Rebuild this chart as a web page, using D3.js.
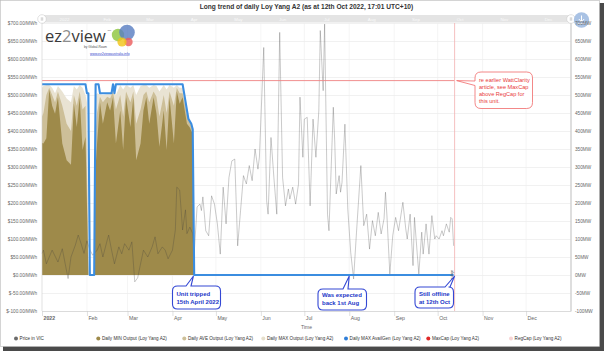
<!DOCTYPE html>
<html>
<head>
<meta charset="utf-8">
<script src="https://cdn.jsdelivr.net/npm/d3@7"></script>
<style>
  body { margin: 0; background: #fff; }
  svg { display: block; font-family: "Liberation Sans", Arial, sans-serif; }
</style>
</head>
<body>
<svg id="vis"></svg>
<script>
// ---- data (days counted from 1 Jan 2022) ----
let priceDays = [0, 1, 3, 7, 11, 14, 16, 18, 20, 23, 25, 27, 29, 31, 33, 35, 38, 40, 42, 45, 46, 48, 50, 53, 55, 57, 60, 62, 64, 66, 68, 70, 73, 76, 78, 80, 83, 85, 87, 90, 92, 93, 95, 97, 99, 100, 102, 104, 105, 107, 109, 110, 111, 113, 115, 117, 119, 121, 123, 125, 127, 129, 131, 133, 135, 137, 139, 141, 143, 145, 147, 149, 150, 153, 155, 156, 158, 160, 162, 164, 166, 168, 170, 171, 173, 175, 177, 178, 180, 181, 183, 185, 187, 189, 191, 192, 194, 195, 197, 198, 201, 202, 203, 205, 206, 207, 209, 211, 213, 215, 217, 220, 222, 224, 226, 228, 230, 232, 234, 236, 237, 238, 240, 242, 244, 246, 249, 251, 252, 254, 256, 257, 259, 260, 262, 263, 265, 267, 269, 271, 272, 274, 276, 277, 279, 281, 282, 283, 284];
let priceVals = [60, 69, 31, 69, 36, 73, 31, -10, 50, 83, 111, 87, 60, 95, 70, 55, 69, 87, 50, 97, 111, 69, 31, 78, 59, 87, 69, 92, -19, -8, 31, 69, 50, 78, 106, 59, 78, 69, 45, 69, 125, 244, 236, 125, 181, 115, 133, 115, 60, 189, 197, 179, 217, 123, 109, 220, 197, 142, 58, 244, 142, 271, 317, 322, 81, 179, 276, 253, 304, 262, 350, 294, 327, 632, 206, 169, 382, 271, 169, 674, 271, 192, 239, 211, 244, 197, 253, 494, 327, 433, 438, 192, 433, 327, 456, 679, 512, 697, 169, 123, 466, 369, 225, 276, 230, 257, 419, 183, 63, -11, 119, 304, 137, 169, 72, 151, 109, 174, 114, 156, 230, 165, 3, 109, 160, 123, 202, 128, 100, 169, 26, 160, 54, 3, 119, 58, 142, 58, 165, 100, 109, 100, 123, 109, 142, 119, 160, 156, 81];

let outDays = [0, 1, 3, 5, 7, 9, 11, 14, 17, 20, 22, 24, 26, 28, 30, 31, 32, 36, 37, 38, 40, 42, 45, 47, 49, 51, 54, 56, 58, 61, 63, 65, 68, 70, 72, 74, 77, 79, 81, 84, 86, 88, 91, 93, 95, 97, 100, 102, 103, 104, 105];
let outMin = [367, 365, 380, 515, 470, 448, 494, 365, 319, 306, 476, 411, 494, 347, 383, 200, 0, 0, 300, 365, 480, 420, 480, 457, 494, 365, 457, 347, 494, 411, 494, 319, 365, 457, 494, 420, 494, 448, 356, 457, 347, 494, 365, 510, 476, 494, 420, 410, 400, 395, 0];
let outAve = [440, 450, 500, 520, 500, 480, 510, 470, 420, 400, 500, 470, 510, 460, 470, 300, 0, 0, 400, 450, 495, 480, 495, 490, 510, 460, 500, 440, 510, 480, 510, 420, 460, 500, 510, 480, 510, 495, 440, 500, 450, 510, 470, 520, 505, 505, 445, 425, 415, 400, 0];
let outMax = [520, 525, 528, 528, 520, 505, 525, 510, 490, 480, 525, 515, 528, 520, 500, 480, 0, 0, 500, 505, 502, 500, 502, 502, 525, 500, 528, 515, 528, 520, 528, 500, 525, 528, 528, 520, 528, 525, 510, 528, 515, 528, 520, 528, 520, 520, 455, 428, 420, 405, 0];

let availDays = [0, 30, 31, 32, 33, 36, 37, 39, 40, 48, 49, 50, 51, 97, 101, 103, 104, 105, 284];
let availVals = [530, 530, 505, 505, 0, 0, 530, 530, 505, 505, 530, 505, 530, 530, 434, 420, 405, 0, 0];

let maxCap = 540;
let nowDay = 284.7; // 12 Oct 2022, 17:01

let yTickVals = [-100, -50, 0, 50, 100, 150, 200, 250, 300, 350, 400, 450, 500, 550, 600, 650, 700];
let monthLabels = ["2022", "Feb", "Mar", "Apr", "May", "Jun", "Jul", "Aug", "Sep", "Oct", "Nov", "Dec"];

let legendNames = ["Price in VIC", "Daily MIN Output (Loy Yang A2)", "Daily AVE Output (Loy Yang A2)",
  "Daily MAX Output (Loy Yang A2)", "Daily MAX AvailGen (Loy Yang A2)", "MaxCap (Loy Yang A2)", "RegCap (Loy Yang A2)"];
let legendColors = ["#6b6b6b", "#9e8a4a", "#cdbf98", "#e6dfcc", "#2f7ed8", "#e02828", "#f7d4d4"];

// ---- setup ----
let width = 604, height = 351;
let plotL = 42, plotR = 571, plotT = 23, plotB = 311;
let svg = d3.select("#vis").attr("width", width).attr("height", height);

let t0 = Date.UTC(2022, 0, 1);
let day = d => new Date(t0 + d * 864e5);

let x = d3.scaleUtc().domain([day(0), new Date(Date.UTC(2023, 0, 1))]).range([plotL, plotR]);
let y = d3.scaleLinear().domain([-100, 700]).range([plotB, plotT]);

// frame + shadow
svg.append("rect").attr("x", 3).attr("y", 3).attr("width", 601).attr("height", 348).attr("fill", "#4a4a4a");
svg.append("rect").attr("x", 0.5).attr("y", 0.5).attr("width", 599).attr("height", 346)
  .attr("fill", "#fff").attr("stroke", "#b8b8b8").attr("stroke-width", 0.6);

// title
svg.append("text")
  .attr("x", (plotL + plotR) / 2).attr("y", 9)
  .attr("text-anchor", "middle").attr("font-size", 6.6).attr("font-weight", "bold").attr("fill", "#333")
  .text("Long trend of daily Loy Yang A2 (as at 12th Oct 2022, 17:01 UTC+10)");

// grid
let months = d3.utcMonth.range(day(0), new Date(Date.UTC(2023, 0, 1)));
svg.append("g")
  .attr("transform", `translate(${plotL},0)`)
  .call(d3.axisLeft(y).tickValues(yTickVals).tickSize(-(plotR - plotL)).tickFormat(""))
  .call(g => g.select(".domain").remove())
  .call(g => g.selectAll("line").attr("stroke", "#e8e8e8").attr("stroke-width", 0.6));
svg.append("g")
  .selectAll("line").data(months.slice(1)).join("line")
  .attr("x1", d => x(d)).attr("x2", d => x(d))
  .attr("y1", plotT).attr("y2", plotB)
  .attr("stroke", "#efefef").attr("stroke-width", 0.6);

// top navigator band
svg.append("rect").attr("x", plotL).attr("y", 15).attr("width", plotR - plotL).attr("height", 7.5).attr("fill", "#e4e4e4");
svg.append("g").selectAll("text").data(months).join("text")
  .attr("x", d => (x(d) + x(d3.utcMonth.offset(d, 1))) / 2).attr("y", 20.6)
  .attr("text-anchor", "middle").attr("font-size", 4.4).attr("fill", "#fafafa")
  .text((d, i) => monthLabels[i]);

// output areas
let outData = outDays.map((d, i) => ({ day: d, min: outMin[i], ave: outAve[i], max: outMax[i] }));
let area = key => d3.area().x(d => x(day(d.day))).y0(y(0)).y1(d => y(d[key]));
[["max", "#e9e3d3"], ["ave", "#cdbf98"], ["min", "#9e8a4a"]].forEach(([k, c]) => {
  svg.append("path").datum(outData).attr("d", area(k)).attr("fill", c);
});

// price line
let priceData = priceDays.map((d, i) => ({ day: d, v: priceVals[i] }));
svg.append("path").datum(priceData)
  .attr("d", d3.line().x(d => x(day(d.day))).y(d => y(d.v)))
  .attr("fill", "none").attr("stroke", "rgba(60,60,60,0.32)").attr("stroke-width", 0.85);

// MaxCap line
svg.append("line")
  .attr("x1", x(day(0))).attr("x2", x(day(nowDay)))
  .attr("y1", y(maxCap)).attr("y2", y(maxCap))
  .attr("stroke", "#ef8282").attr("stroke-width", 0.9);

// now marker
svg.append("line")
  .attr("x1", x(day(nowDay))).attr("x2", x(day(nowDay)))
  .attr("y1", plotT).attr("y2", plotB)
  .attr("stroke", "#f2b0b0").attr("stroke-width", 0.8);

// availability line
let availData = availDays.map((d, i) => ({ day: d, v: availVals[i] }));
svg.append("path").datum(availData)
  .attr("d", d3.line().x(d => x(day(d.day))).y(d => y(d.v)))
  .attr("fill", "none").attr("stroke", "#3b8de0").attr("stroke-width", 2.1).attr("stroke-linejoin", "round");

// outage flag
svg.append("text")
  .attr("transform", `translate(${x(day(nowDay)) - 2},279)rotate(-90)`)
  .attr("font-size", 3).attr("fill", "#555").text("outage");

// axis lines
svg.append("line").attr("x1", plotL).attr("x2", plotL).attr("y1", 15).attr("y2", plotB).attr("stroke", "#ccc").attr("stroke-width", 0.6);
svg.append("line").attr("x1", plotR).attr("x2", plotR).attr("y1", 15).attr("y2", plotB).attr("stroke", "#d6d6d6").attr("stroke-width", 1.6);

// band handles + export button
[plotL, plotR].forEach(cx => {
  svg.append("circle").attr("cx", cx).attr("cy", 19).attr("r", 4.3).attr("fill", "#fff").attr("stroke", "#c4c4c4").attr("stroke-width", 0.5);
  svg.append("path").attr("d", `M${cx - 0.7},17.3V20.7M${cx + 0.7},17.3V20.7`).attr("stroke", "#888").attr("stroke-width", 0.4);
});
svg.append("circle").attr("cx", 581.5).attr("cy", 20).attr("r", 7.7).attr("fill", "#a9c2e4");
svg.append("path").attr("d", "M581.5,15.5V21.5M578.8,19L581.5,21.8L584.2,19M577.8,23.6H585.2")
  .attr("fill", "none").attr("stroke", "#fff").attr("stroke-width", 1);

// left axis
svg.append("g")
  .attr("transform", `translate(${plotL},0)`)
  .call(d3.axisLeft(y).tickValues(yTickVals).tickSize(0).tickPadding(5)
    .tickFormat(d => "$" + d.toFixed(2) + "/MWh"))
  .call(g => g.select(".domain").remove())
  .call(g => g.selectAll("text").attr("font-size", 4.7).attr("fill", "#666").attr("font-family", null));

// right axis
svg.append("g")
  .attr("transform", `translate(${plotR},0)`)
  .call(d3.axisRight(y).tickValues(yTickVals).tickSize(0).tickPadding(4)
    .tickFormat(d => d + "MW"))
  .call(g => g.select(".domain").remove())
  .call(g => g.selectAll("text").attr("font-size", 4.7).attr("fill", "#666").attr("font-family", null));

// bottom axis
svg.append("g")
  .attr("transform", `translate(0,${plotB})`)
  .call(d3.axisBottom(x).tickValues(months).tickSize(5).tickSizeOuter(0)
    .tickFormat((d, i) => monthLabels[i]))
  .call(g => g.select(".domain").attr("stroke", "#ccc").attr("stroke-width", 0.6))
  .call(g => g.selectAll("line").attr("stroke", "#ccc").attr("stroke-width", 0.6))
  .call(g => g.selectAll("text")
    .attr("text-anchor", "start").attr("x", 1).attr("y", 5).attr("dy", "0.71em")
    .attr("font-size", 5.2).attr("fill", "#666").attr("font-family", null)
    .attr("font-weight", (d, i) => i === 0 ? "bold" : null));

svg.append("text").attr("x", (plotL + plotR) / 2).attr("y", 328.5)
  .attr("text-anchor", "middle").attr("font-size", 5).attr("fill", "#666").text("Time");

// logo
let logo = svg.append("g");
let lt = logo.append("text").attr("x", 45).attr("y", 41.5).attr("font-family", "'Open Sans', sans-serif")
  .attr("font-size", 16.5).attr("fill", "#3a3a3a");
lt.append("tspan").text("ez");
lt.append("tspan").attr("fill", "#8d8d8d").text("2");
lt.append("tspan").text("view");
logo.append("text").attr("x", 107.5).attr("y", 31).attr("font-size", 2.5).attr("fill", "#555").text("TM");
logo.append("text").attr("x", 84).attr("y", 48.2).attr("font-size", 3.2).attr("fill", "#555").text("by Global-Roam");
logo.append("text").attr("x", 90).attr("y", 54.5).attr("font-size", 3.4).attr("fill", "#3344cc")
  .attr("text-decoration", "underline").text("www.ez2viewaustralia.info");
[[118, 35, 6.2, "#8dc63f"], [127, 32.5, 7.8, "#5a7fc2"], [128.5, 42, 4.2, "#ec5e5e"], [122, 42, 4.6, "#f2c418"]]
  .forEach(([cx, cy, r, c]) => logo.append("circle").attr("cx", cx).attr("cy", cy).attr("r", r)
    .attr("fill", c).attr("fill-opacity", 0.82));

// callouts
function calloutTop(bx, by, w, h, p1, p2, tx, ty) {
  let r = 5;
  return `M${bx + r},${by}L${p1},${by}L${tx},${ty}L${p2},${by}L${bx + w - r},${by}` +
    `Q${bx + w},${by} ${bx + w},${by + r}L${bx + w},${by + h - r}Q${bx + w},${by + h} ${bx + w - r},${by + h}` +
    `L${bx + r},${by + h}Q${bx},${by + h} ${bx},${by + h - r}L${bx},${by + r}Q${bx},${by} ${bx + r},${by}Z`;
}
function calloutLeft(bx, by, w, h, p1, p2, tx, ty) {
  let r = 6;
  return `M${bx + r},${by}L${bx + w - r},${by}Q${bx + w},${by} ${bx + w},${by + r}L${bx + w},${by + h - r}` +
    `Q${bx + w},${by + h} ${bx + w - r},${by + h}L${bx + r},${by + h}Q${bx},${by + h} ${bx},${by + h - r}` +
    `L${bx},${p2}L${tx},${ty}L${bx},${p1}L${bx},${by + r}Q${bx},${by} ${bx + r},${by}Z`;
}
function addText(tx, ty, lines, lh, size, color, weight) {
  let t = svg.append("text").attr("font-size", size).attr("fill", color).attr("font-weight", weight);
  lines.forEach((l, i) => t.append("tspan").attr("x", tx).attr("y", ty + i * lh).text(l));
}
let blue = "#3448d4";
let tipY = y(0);
[
  [172.5, 286, 48, 23, 186, 191, x(day(104.5)), ["Unit tripped", "15th April 2022"], 295.5],
  [318, 289, 48.5, 21, 343, 348, x(day(212)), ["Was expected", "back 1st Aug"], 297],
  [415, 287, 38.5, 21, 445, 450, x(day(nowDay)), ["Still offline", "at 12th Oct"], 295.5]
].forEach(([bx, by, w, h, p1, p2, tx, lines, ly]) => {
  svg.append("path").attr("d", calloutTop(bx, by, w, h, p1, p2, tx, tipY + 1))
    .attr("fill", "#fff").attr("stroke", blue).attr("stroke-width", 1.1);
  addText(bx + 4, ly, lines, 8, 6, "#2438c8", "bold");
});

svg.append("path").attr("d", calloutLeft(475, 72, 57.5, 36.5, 81, 85.5, x(day(nowDay)) + 2, y(maxCap)))
  .attr("fill", "#fff").attr("stroke", "#f06a6a").attr("stroke-width", 0.8);
addText(479, 82, ["re earlier WattClarity", "article, see MaxCap", "above RegCap for", "this unit."], 7, 5.6, "#e83a3a", null);

// legend
let legendX = [16, 98.3, 184.3, 263.3, 346, 428.3, 511];
let lg = svg.append("g").selectAll("g").data(legendNames).join("g")
  .attr("transform", (d, i) => `translate(${legendX[i]},338.5)`);
lg.append("circle").attr("r", 2).attr("fill", (d, i) => legendColors[i]);
lg.append("text").attr("x", 3.6).attr("y", 1.7).attr("font-size", 4.6).attr("fill", "#333").text(d => d);
</script>
</body>
</html>
